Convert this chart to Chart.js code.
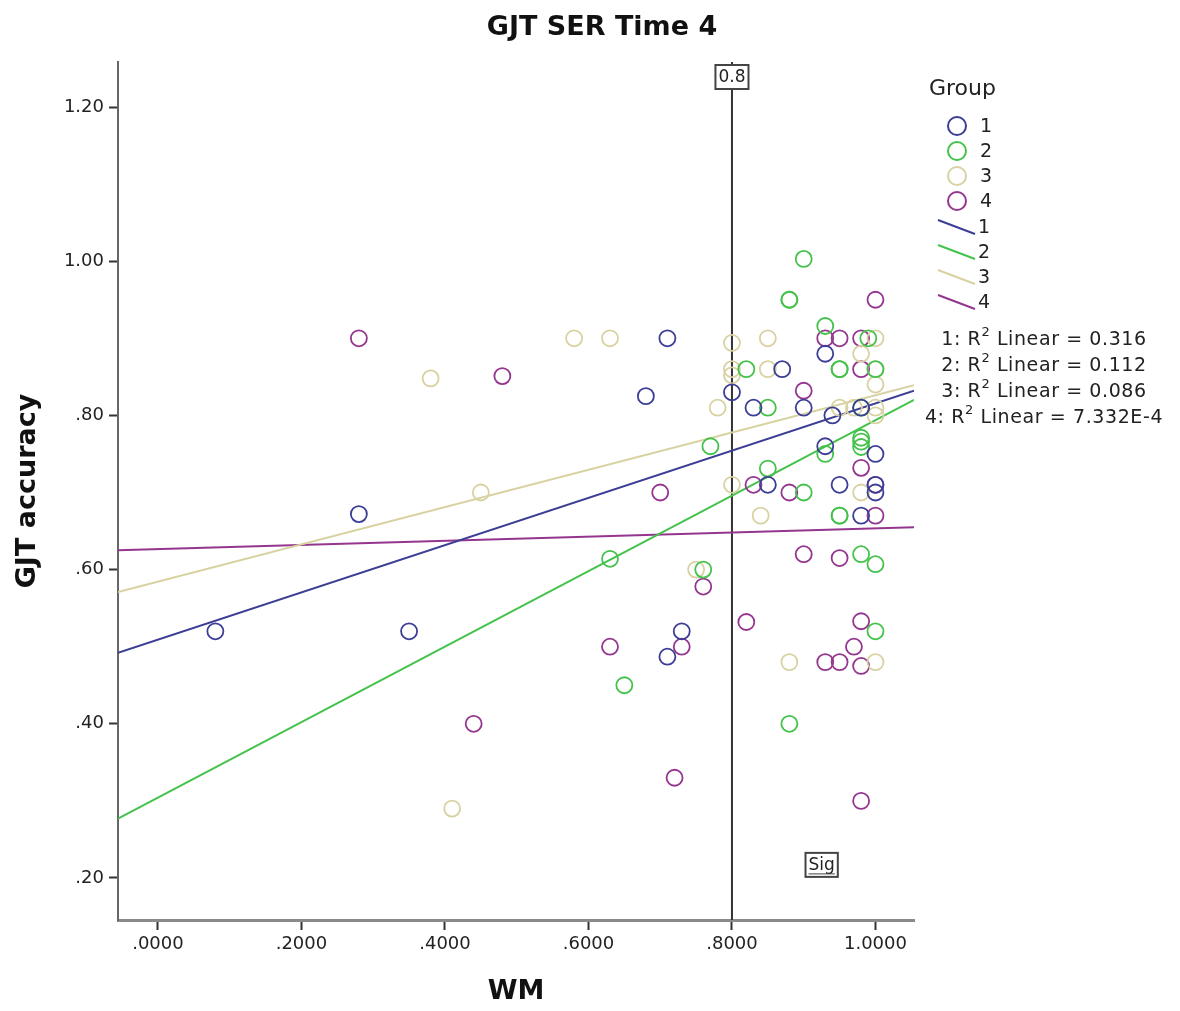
<!DOCTYPE html>
<html>
<head>
<meta charset="utf-8">
<script src="https://cdn.jsdelivr.net/npm/chart.js@4"></script>
<style>
	html, body { margin: 0; padding: 0; background: #fff; }
</style>
</head>
<body>
<canvas id="myChart" width="1180" height="1011"></canvas>
<script>
// scatter values (WM, GJT accuracy) per group
const group1X = [0.08, 0.28, 0.35, 0.68, 0.71, 0.71, 0.73, 0.80, 0.83, 0.85, 0.87, 0.90, 0.93, 0.94, 0.93, 0.95, 0.98, 0.98, 1.00, 1.00, 1.00];
const group1Y = [0.52, 0.672, 0.52, 0.825, 0.90, 0.487, 0.52, 0.83, 0.81, 0.71, 0.86, 0.81, 0.88, 0.80, 0.76, 0.71, 0.81, 0.67, 0.75, 0.71, 0.70];

const group2X = [0.63, 0.65, 0.76, 0.77, 0.82, 0.85, 0.85, 0.88, 0.88, 0.88, 0.90, 0.90, 0.93, 0.93, 0.95, 0.95, 0.95, 0.95, 0.98, 0.98, 0.98, 0.98, 0.98, 0.99, 1.00, 1.00, 1.00];
const group2Y = [0.614, 0.45, 0.60, 0.76, 0.86, 0.81, 0.731, 0.95, 0.95, 0.40, 1.003, 0.70, 0.916, 0.75, 0.86, 0.86, 0.67, 0.67, 0.81, 0.771, 0.766, 0.759, 0.62, 0.90, 0.86, 0.607, 0.52];

const group3X = [0.38, 0.41, 0.45, 0.58, 0.63, 0.75, 0.78, 0.80, 0.80, 0.80, 0.80, 0.84, 0.85, 0.85, 0.88, 0.95, 0.97, 0.98, 0.98, 1.00, 1.00, 1.00, 1.00, 1.00, 1.00];
const group3Y = [0.848, 0.29, 0.70, 0.90, 0.90, 0.60, 0.81, 0.894, 0.86, 0.852, 0.71, 0.67, 0.90, 0.86, 0.48, 0.81, 0.81, 0.88, 0.70, 0.90, 0.86, 0.84, 0.81, 0.80, 0.48];

const group4X = [0.28, 0.44, 0.48, 0.63, 0.70, 0.72, 0.73, 0.76, 0.82, 0.83, 0.88, 0.90, 0.90, 0.93, 0.93, 0.95, 0.95, 0.95, 0.97, 0.98, 0.98, 0.98, 0.98, 0.98, 0.98, 1.00, 1.00, 1.00];
const group4Y = [0.90, 0.40, 0.851, 0.50, 0.70, 0.33, 0.50, 0.578, 0.532, 0.71, 0.70, 0.832, 0.62, 0.90, 0.48, 0.90, 0.615, 0.48, 0.50, 0.90, 0.86, 0.732, 0.533, 0.475, 0.30, 0.95, 0.71, 0.67];

// fit line ends, read at the left and right edge of the plot
const fitX = [-0.0557, 1.0537];
const fit1Y = [0.492, 0.832];
const fit2Y = [0.277, 0.820];
const fit3Y = [0.571, 0.839];
const fit4Y = [0.625, 0.655];

const groupNames = ["1", "2", "3", "4"];
const r2Values = ["0.316", "0.112", "0.086", "7.332E-4"];
const groupColors = ["#3c3e95", "#45c24c", "#d8d2a2", "#94368f"];

const xTicks = [0, 0.2, 0.4, 0.6, 0.8, 1.0];
const yTicks = [0.2, 0.4, 0.6, 0.8, 1.0, 1.2];
const xMin = -0.0557, xMax = 1.0537;
const yMin = 0.1455, yMax = 1.2584;

const refX = 0.8;
const refLabel = "0.8";
const sigLabel = "Sig";
const sigX = 0.925, sigY = 0.217;

function pts(xs, ys) {
	return xs.map(function (x, i) { return { x: x, y: ys[i] }; });
}

const FONT = "'DejaVu Sans', sans-serif";

const scatterSets = [
	[group1X, group1Y], [group2X, group2Y], [group3X, group3Y], [group4X, group4Y]
].map(function (g, i) {
	return {
		type: "scatter",
		label: groupNames[i],
		data: pts(g[0], g[1]),
		borderColor: groupColors[i],
		backgroundColor: "rgba(0,0,0,0)",
		borderWidth: 1.8,
		pointRadius: 8,
		pointHoverRadius: 8,
		order: 1,
	};
});

const lineSets = [fit1Y, fit2Y, fit3Y, fit4Y].map(function (ys, i) {
	return {
		type: "line",
		label: "fit " + groupNames[i],
		data: pts(fitX, ys),
		borderColor: groupColors[i],
		borderWidth: 2,
		pointRadius: 0,
		fill: false,
		order: 2,
	};
});

const refSet = {
	type: "line",
	label: "ref",
	data: [{ x: refX, y: yMin }, { x: refX, y: yMax }],
	borderColor: "#333",
	borderWidth: 2,
	pointRadius: 0,
	fill: false,
	order: 3,
};

function boxLabel(ctx, text, cx, cy, underline) {
	ctx.save();
	ctx.font = "17px " + FONT;
	const w = ctx.measureText(text).width + 6;
	const h = 24;
	ctx.fillStyle = "#fff";
	ctx.fillRect(cx - w / 2, cy - h / 2, w, h);
	ctx.strokeStyle = "#444";
	ctx.lineWidth = 2;
	ctx.strokeRect(cx - w / 2, cy - h / 2, w, h);
	ctx.fillStyle = "#222";
	ctx.textAlign = "center";
	ctx.textBaseline = "middle";
	ctx.fillText(text, cx, cy + 1);
	if (underline) {
		ctx.beginPath();
		ctx.moveTo(cx - w / 2 + 3, cy + 9);
		ctx.lineTo(cx + w / 2 - 3, cy + 9);
		ctx.lineWidth = 1;
		ctx.stroke();
	}
	ctx.restore();
}

const extras = {
	id: "extras",
	afterDraw(chart) {
		const ctx = chart.ctx;
		const xs = chart.scales.x, ys = chart.scales.y;
		ctx.save();
		// title
		ctx.fillStyle = "#111";
		ctx.font = "bold 27px " + FONT;
		ctx.textAlign = "center";
		ctx.textBaseline = "middle";
		ctx.fillText("GJT SER Time 4", 602, 28);

		// reference line labels
		boxLabel(ctx, refLabel, xs.getPixelForValue(refX), 77, false);
		boxLabel(ctx, sigLabel, xs.getPixelForValue(sigX), ys.getPixelForValue(sigY), true);

		// legend
		ctx.textAlign = "left";
		ctx.font = "22px " + FONT;
		ctx.fillStyle = "#222";
		ctx.fillText("Group", 929, 89);
		ctx.font = "19px " + FONT;
		for (let i = 0; i < 4; i++) {
			const y = 126 + i * 25;
			ctx.beginPath();
			ctx.arc(957, y, 9, 0, Math.PI * 2);
			ctx.strokeStyle = groupColors[i];
			ctx.lineWidth = 2;
			ctx.stroke();
			ctx.fillStyle = "#222";
			ctx.fillText(groupNames[i], 980, y + 1);
		}
		for (let i = 0; i < 4; i++) {
			const y = 227 + i * 25;
			ctx.beginPath();
			ctx.moveTo(938, y - 7);
			ctx.lineTo(975, y + 7);
			ctx.strokeStyle = groupColors[i];
			ctx.lineWidth = 2;
			ctx.stroke();
			ctx.fillStyle = "#222";
			ctx.fillText(groupNames[i], 978, y + 1);
		}
		// R2 lines, centred
		ctx.letterSpacing = "0.6px";
		for (let i = 0; i < 4; i++) {
			const y = 340 + i * 26;
			const a = groupNames[i] + ": R";
			const b = " Linear = " + r2Values[i];
			ctx.font = "19px " + FONT;
			const wa = ctx.measureText(a).width;
			const wb = ctx.measureText(b).width;
			ctx.font = "13px " + FONT;
			const ws = ctx.measureText("2").width;
			let x = 1044 - (wa + ws + wb) / 2;
			ctx.font = "19px " + FONT;
			ctx.fillText(a, x, y);
			ctx.font = "13px " + FONT;
			ctx.fillText("2", x + wa, y - 7);
			ctx.font = "19px " + FONT;
			ctx.fillText(b, x + wa + ws, y);
		}
		ctx.restore();
	},
};

const ctx = document.getElementById("myChart").getContext("2d");
const myChart = new Chart(ctx, {
	data: {
		datasets: scatterSets.concat(lineSets, [refSet]),
	},
	options: {
		responsive: false,
		animation: false,
		layout: {
			padding: { top: 62, right: 266, left: 0, bottom: 0 },
		},
		plugins: {
			legend: { display: false },
			title: { display: false },
			tooltip: { enabled: false },
		},
		scales: {
			x: {
				type: "linear",
				min: xMin,
				max: xMax,
				afterBuildTicks: function (scale) {
					scale.ticks = xTicks.map(function (v) { return { value: v }; });
				},
				afterFit: function (scale) { scale.height = 91; },
				ticks: {
					color: "#222",
					font: { family: FONT, size: 18 },
					padding: 4,
					maxRotation: 0,
					callback: function (v) {
						const s = Number(v).toFixed(4);
						return s.charAt(0) === "0" ? s.slice(1) : s;
					},
				},
				grid: {
					drawOnChartArea: false,
					drawTicks: true,
					tickLength: 10,
					tickWidth: 2,
					tickColor: "#333",
				},
				border: { display: true, color: "#8a8a8a", width: 3 },
				title: {
					display: true,
					text: "WM",
					color: "#111",
					font: { family: FONT, size: 27, weight: "bold" },
					padding: { top: 0, bottom: 3 },
				},
			},
			y: {
				type: "linear",
				min: yMin,
				max: yMax,
				afterBuildTicks: function (scale) {
					scale.ticks = yTicks.map(function (v) { return { value: v }; });
				},
				afterFit: function (scale) { scale.width = 118; },
				ticks: {
					color: "#222",
					font: { family: FONT, size: 18 },
					padding: 5,
					callback: function (v) {
						const s = Number(v).toFixed(2);
						return s.charAt(0) === "0" ? s.slice(1) : s;
					},
				},
				grid: {
					drawOnChartArea: false,
					drawTicks: true,
					tickLength: 9,
					tickWidth: 2,
					tickColor: "#333",
				},
				border: { display: true, color: "#666", width: 2 },
				title: {
					display: true,
					text: "GJT accuracy",
					color: "#111",
					font: { family: FONT, size: 27, weight: "bold" },
					padding: { top: 12, bottom: 0 },
				},
			},
		},
	},
	plugins: [extras],
});
</script>
</body>
</html>
